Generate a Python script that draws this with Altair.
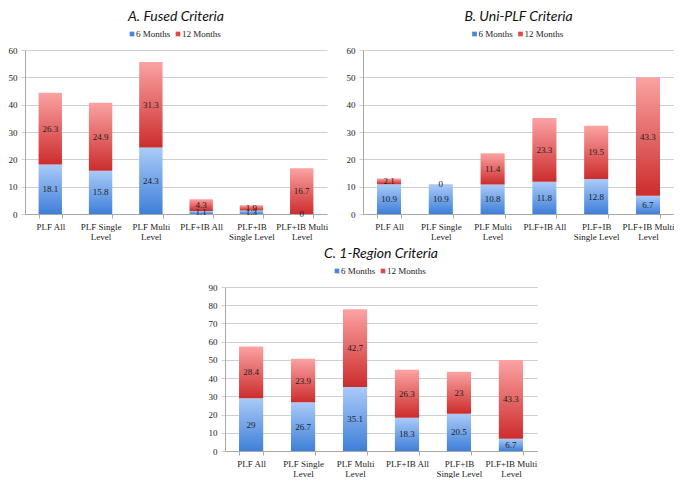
import altair as alt
import pandas as pd

categories = ["PLF All", "PLF Single|Level", "PLF Multi|Level", "PLF+IB All",
              "PLF+IB|Single Level", "PLF+IB Multi|Level"]
series = ["6 Months", "12 Months"]

fused_6 = [18.1, 15.8, 24.3, 1.1, 1.3, 0]
fused_12 = [26.3, 24.9, 31.3, 4.3, 1.9, 16.7]
uni_6 = [10.9, 10.9, 10.8, 11.8, 12.8, 6.7]
uni_12 = [2.1, 0, 11.4, 23.3, 19.5, 43.3]
region_6 = [29, 26.7, 35.1, 18.3, 20.5, 6.7]
region_12 = [28.4, 23.9, 42.7, 26.3, 23, 43.3]

SERIF = "Liberation Serif"
TITLE_FONT = "Lato"
GRID = "#cfcfcf"
AX = "#a8a8a8"

blue_grad = alt.Gradient(gradient="linear", x1=0, x2=0, y1=1, y2=0,
                         stops=[alt.GradientStop(color="#3f7fd9", offset=0),
                                alt.GradientStop(color="#aacbf8", offset=1)])
red_grad = alt.Gradient(gradient="linear", x1=0, x2=0, y1=1, y2=0,
                        stops=[alt.GradientStop(color="#cd2c2c", offset=0),
                               alt.GradientStop(color="#fba3a3", offset=1)])


def panel(title, six, twelve, ymax, width, height=164):
    rows = []
    for i, c in enumerate(categories):
        rows.append({"cat": c, "series": series[0], "ord": 0, "value": six[i]})
        rows.append({"cat": c, "series": series[1], "ord": 1, "value": twelve[i]})
    df = pd.DataFrame(rows)

    base = alt.Chart(df).transform_stack(
        stack="value", groupby=["cat"], as_=["y0", "y1"],
        sort=[alt.SortField("ord", order="ascending")]
    ).transform_calculate(
        mid="(datum.y0 + datum.y1) / 2", label="toString(datum.value)"
    )

    x_scale = alt.Scale(paddingInner=0.535, paddingOuter=0.27)
    x_axis = alt.Axis(labelAngle=0, labelExpr="split(datum.label, '|')",
                      tickBand="extent", domainColor=AX, tickColor=AX,
                      tickSize=4, labelFont=SERIF, labelFontSize=9,
                      labelColor="#222", labelPadding=4, labelLineHeight=10)
    y_scale = alt.Scale(domain=[0, ymax], nice=False)
    y_axis = alt.Axis(values=list(range(0, ymax + 1, 10)), gridColor=GRID,
                      domainColor=AX, tickColor=GRID, tickSize=4, labelOverlap=False,
                      labelFont=SERIF, labelFontSize=9, labelColor="#222",
                      labelPadding=4)
    x_enc = alt.X("cat:N", sort=categories, title=None, scale=x_scale, axis=x_axis)

    bars_b = base.transform_filter(alt.datum.ord == 0).mark_bar(color=blue_grad).encode(
        x=x_enc, y=alt.Y("y0:Q", title=None, scale=y_scale, axis=y_axis), y2="y1:Q")
    bars_r = base.transform_filter(alt.datum.ord == 1).mark_bar(color=red_grad).encode(
        x=x_enc, y=alt.Y("y0:Q", title=None, scale=y_scale, axis=y_axis), y2="y1:Q")
    labels = base.mark_text(font=SERIF, fontSize=9, color="#222").encode(
        x=x_enc, y=alt.Y("mid:Q", title=None, scale=y_scale, axis=y_axis),
        text="label:N")

    one = pd.DataFrame({"a": [0]})
    cx = width / 2
    leg = []
    for k, (name, col) in enumerate(zip(series, ["#4a86e0", "#df4a4a"])):
        sx = cx - 44 + k * 46
        leg.append(alt.Chart(one).mark_square(size=22, color=col, opacity=1).encode(
            x=alt.value(sx), y=alt.value(-16)))
        leg.append(alt.Chart(one).mark_text(font=SERIF, fontSize=9, color="#222",
                                            align="left", baseline="middle").encode(
            x=alt.value(sx + 4), y=alt.value(-16), text=alt.value(name)))

    return alt.layer(bars_b, bars_r, labels, *leg).properties(
        width=width, height=height,
        title=alt.TitleParams(title, font=TITLE_FONT, fontSize=14, fontStyle="italic",
                              fontWeight="normal", color="#111", anchor="middle",
                              offset=6))


A = panel("A. Fused Criteria", fused_6, fused_12, 60, 302)
B = panel("B. Uni-PLF Criteria", uni_6, uni_12, 60, 311)
C = panel("C. 1-Region Criteria", region_6, region_12, 90, 312)

spacer = alt.Chart(pd.DataFrame({"a": [0]})).mark_point(opacity=0).encode(
    x=alt.value(0), y=alt.value(0)).properties(width=183, height=10)

chart = alt.vconcat(
    alt.hconcat(A, B, spacing=18),
    alt.hconcat(spacer, C, spacing=0),
    spacing=6,
).properties(padding={"left": 0, "top": 2, "right": 0, "bottom": 0},
             background="white").configure_view(stroke=None)

chart.save("out.html", embed_options={"renderer": "svg", "actions": False})
